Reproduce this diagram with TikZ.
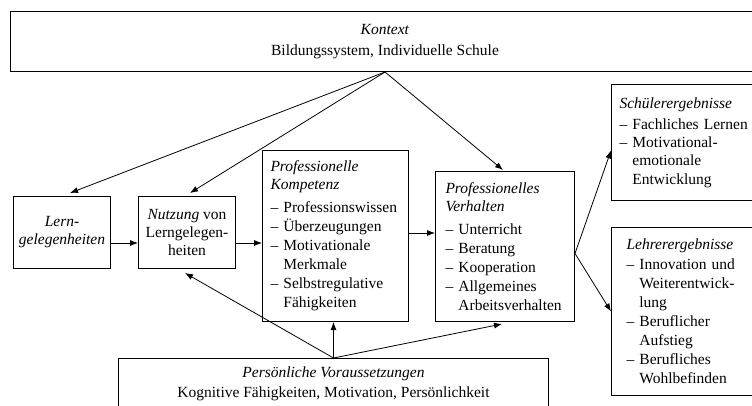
\documentclass[tikz,border=0pt]{standalone}
\usepackage{fontspec}
\setmainfont{Liberation Serif}
\usetikzlibrary{arrows.meta}
\begin{document}
\begin{tikzpicture}[x=1pt,y=-1pt,
  box/.style={draw, line width=1pt, inner sep=0pt, anchor=north west, font=\fontsize{15.5}{19}\selectfont},
  arr/.style={line width=0.8pt, -{Latex[length=8pt,width=6pt]}}]
\useasboundingbox (0,0) rectangle (752,406);
\clip (0,0) rectangle (752,406);
\fill[white] (0,0) rectangle (752,406);
% boxes
\node[box, minimum width=749, minimum height=60, align=center] (ctx) at (10,11)
  {\textit{Kontext}\\[2pt]Bildungssystem, Individuelle Schule};
\node[box, minimum width=97, minimum height=72, align=center] (lern) at (13,196)
  {\textit{Lern-}\\[-1pt]\textit{gelegenheiten}};
\node[box, minimum width=97, minimum height=72, align=center] (nutz) at (138,196)
  {\textit{Nutzung} von\\[-1pt]Lerngelegen-\\[-1pt]heiten};
\node[box, minimum width=146, minimum height=171, inner xsep=8pt, text width=130pt, align=left] (komp) at (262,150)
  {\textit{Professionelle}\\[-1pt]\textit{Kompetenz}\\[4pt]–\ Professionswissen\\–\ Überzeugungen\\–\ Motivationale\\\hphantom{–\ }Merkmale\\–\ Selbstregulative\\\hphantom{–\ }Fähigkeiten};
\node[box, minimum width=139, minimum height=150, inner xsep=10pt, text width=119pt, align=left] (verh) at (435,171)
  {\textit{Professionelles}\\[-1pt]\textit{Verhalten}\\[4pt]–\ Unterricht\\–\ Beratung\\–\ Kooperation\\–\ Allgemeines\\\hphantom{–\ }Arbeitsverhalten};
\node[box, minimum width=160, minimum height=116, inner xsep=8pt, text width=144pt, align=left] (schu) at (611,84)
  {\textit{Schülerergebnisse}\\[2pt]–\ Fachliches Lernen\\[-1pt]–\ Motivational-\\[-1pt]\hphantom{–\ }emotionale\\\hphantom{–\ }Entwicklung};
\node[box, minimum width=160, minimum height=168, inner xsep=15pt, text width=130pt, align=left] (lehr) at (611,227)
  {\textit{Lehrerergebnisse}\\[1pt]–\ Innovation und\\\hphantom{–\ }Weiterentwick-\\\hphantom{–\ }lung\\–\ Beruflicher\\\hphantom{–\ }Aufstieg\\–\ Berufliches\\\hphantom{–\ }Wohlbefinden};
\node[box, minimum width=430, minimum height=51, align=center] (pers) at (118,358)
  {\textit{Persönliche Voraussetzungen}\\[1pt]Kognitive Fähigkeiten, Motivation, Persönlichkeit};
% helper coordinates
\coordinate (ctop) at (ctx.south);
\coordinate (cbot) at (pers.north);
\coordinate (h1) at (0,243);
\coordinate (h2) at (0,233);
\coordinate (vout) at ([yshift=-7pt]verh.east);
% arrows from context
\draw[arr] (ctop) -- ([xshift=57pt,yshift=3pt]lern.north west);
\draw[arr] (ctop) -- ([xshift=52pt,yshift=3pt]nutz.north west);
\draw[arr] (ctop) -- ([xshift=68pt,yshift=1pt]verh.north west);
% horizontal chain
\draw[arr] (lern.east |- h1) -- (nutz.west |- h1);
\draw[arr] (nutz.east |- h1) -- (komp.west |- h1);
\draw[arr] (komp.east |- h2) -- (verh.west |- h2);
% outcomes
\draw[arr] (vout) -- ([yshift=-8pt]schu.west);
\draw[arr] (vout) -- (lehr.west);
% arrows from personal prerequisites
\draw[arr] (cbot) -- ([xshift=47pt,yshift=-4pt]nutz.south west);
\draw[arr] (cbot) -- (cbot |- komp.south);
\draw[arr] (cbot) -- ([xshift=67pt,yshift=-2pt]verh.south west);
\end{tikzpicture}
\end{document}
